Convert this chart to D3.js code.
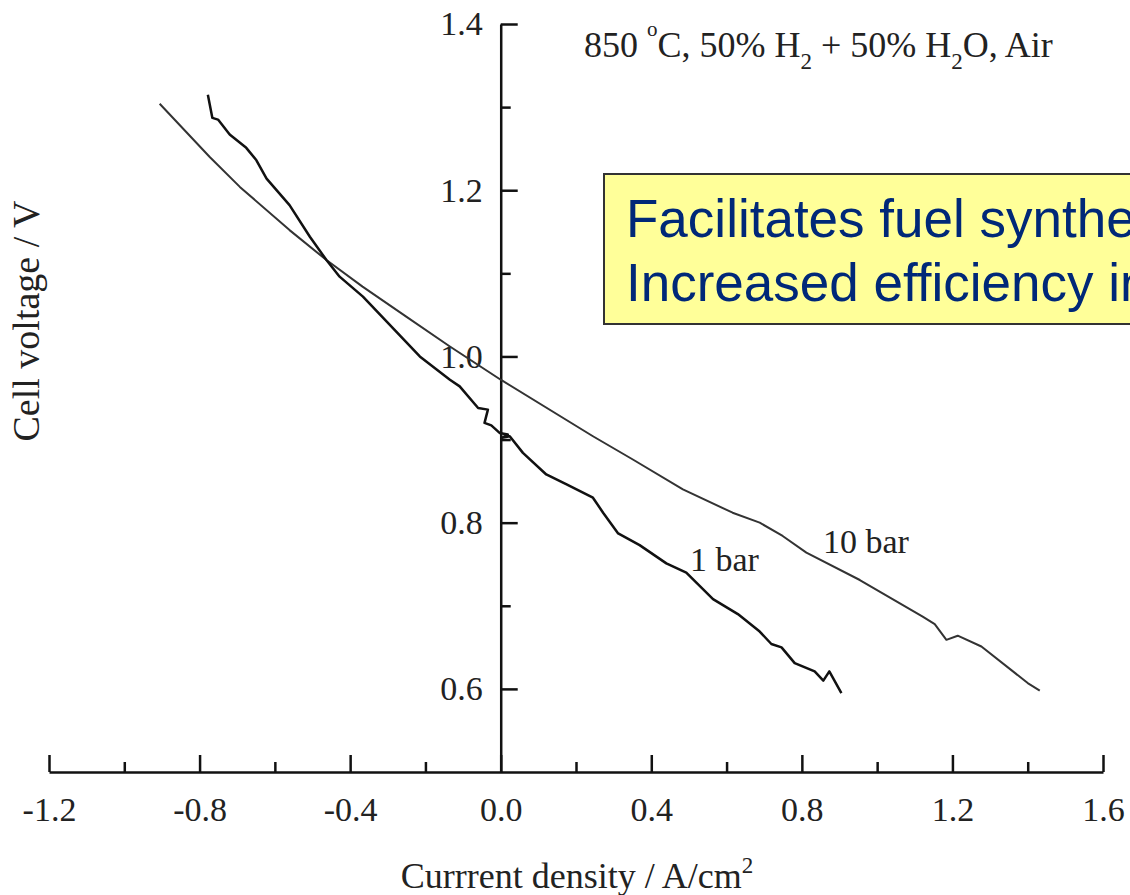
<!DOCTYPE html>
<html>
<head>
<meta charset="utf-8">
<script src="https://cdn.jsdelivr.net/npm/d3@7"></script>
<style>
  body { margin: 0; background: #fff; }
  svg { display: block; }
</style>
</head>
<body>
<svg id="chart"></svg>
<script>
// current density (A/cm2) and cell voltage (V)
const j1bar = [-0.778, -0.766, -0.751, -0.720, -0.676, -0.649, -0.622, -0.561, -0.507, -0.463,
  -0.428, -0.366, -0.215, -0.135, -0.109, -0.060, -0.034, -0.043, -0.025, -0.003,
  0.019, 0.003, 0.024, 0.059, 0.121, 0.175, 0.245, 0.272, 0.312, 0.369,
  0.440, 0.493, 0.564, 0.630, 0.688, 0.719, 0.746, 0.781, 0.834, 0.857, 0.873, 0.905];
const v1bar = [1.315, 1.287, 1.285, 1.267, 1.251, 1.236, 1.214, 1.182, 1.144, 1.116,
  1.096, 1.072, 1.000, 0.972, 0.964, 0.938, 0.936, 0.920, 0.917, 0.908,
  0.906, 0.902, 0.904, 0.884, 0.858, 0.846, 0.830, 0.812, 0.787, 0.773,
  0.751, 0.740, 0.708, 0.690, 0.669, 0.654, 0.650, 0.631, 0.621, 0.610, 0.621, 0.595];

const j10bar = [-0.906, -0.773, -0.693, -0.561, -0.463, -0.367, -0.251, -0.135, 0.000, 0.245,
  0.351, 0.484, 0.616, 0.688, 0.749, 0.812, 0.954, 1.121, 1.153, 1.184,
  1.214, 1.277, 1.400, 1.432];
const v10bar = [1.304, 1.240, 1.204, 1.152, 1.116, 1.084, 1.048, 1.012, 0.972, 0.904,
  0.876, 0.840, 0.812, 0.800, 0.784, 0.764, 0.731, 0.687, 0.678, 0.659,
  0.664, 0.651, 0.607, 0.598];

const xMajor = [-1.2, -0.8, -0.4, 0.0, 0.4, 0.8, 1.2, 1.6];
const xMinor = [-1.0, -0.6, -0.2, 0.2, 0.6, 1.0, 1.4];
const yMajor = [0.6, 0.8, 1.0, 1.2, 1.4];
const yMinor = [0.7, 0.9, 1.1, 1.3];

const width = 1130, height = 895;
const serif = "'Liberation Serif', 'Times New Roman', serif";
// plain hyphen for negatives, like the original
const fmt = d => d3.format(".1f")(d).replace("\u2212", "-");

const svg = d3.select("#chart")
  .attr("width", width)
  .attr("height", height)
  .style("background", "#fff");

const x = d3.scaleLinear().domain([-1.2, 1.6]).range([49, 1103]);
const y = d3.scaleLinear().domain([0.5, 1.4]).range([772, 24]);

// x axis: ticks point up into the plot
const xAxisMajor = d3.axisBottom(x).tickValues(xMajor)
  .tickSizeInner(-17).tickSizeOuter(0).tickPadding(25)
  .tickFormat(fmt);
const xAxisMinor = d3.axisBottom(x).tickValues(xMinor)
  .tickSizeInner(-10).tickSizeOuter(0).tickFormat("");

svg.append("g").attr("transform", `translate(0,${y(0.5)})`).call(xAxisMajor);
svg.append("g").attr("transform", `translate(0,${y(0.5)})`).call(xAxisMinor)
  .select(".domain").remove();

// y axis at zero current, ticks point right
const yAxisMajor = d3.axisLeft(y).tickValues(yMajor)
  .tickSizeInner(-17).tickSizeOuter(0).tickPadding(18)
  .tickFormat(fmt);
const yAxisMinor = d3.axisLeft(y).tickValues(yMinor)
  .tickSizeInner(-10).tickSizeOuter(0).tickFormat("");

svg.append("g").attr("transform", `translate(${x(0)},0)`).call(yAxisMajor);
svg.append("g").attr("transform", `translate(${x(0)},0)`).call(yAxisMinor)
  .select(".domain").remove();

svg.selectAll(".domain, .tick line")
  .attr("stroke", "#111")
  .attr("stroke-width", 2.5);

svg.selectAll(".tick text")
  .attr("font-family", serif)
  .attr("font-size", 34)
  .attr("fill", "#222");

// axis titles
svg.append("text")
  .attr("x", 577).attr("y", 888)
  .attr("text-anchor", "middle")
  .attr("font-family", serif).attr("font-size", 36).attr("fill", "#222")
  .call(t => {
    t.append("tspan").text("Currrent density / A/cm");
    t.append("tspan").attr("dy", -15).attr("font-size", 23).text("2");
  });

svg.append("text")
  .attr("transform", "translate(39,321) rotate(-90)")
  .attr("text-anchor", "middle")
  .attr("font-family", serif).attr("font-size", 38).attr("fill", "#222")
  .text("Cell voltage / V");

// condition label at the top
const title = svg.append("text")
  .attr("x", 584).attr("y", 57)
  .attr("font-family", serif).attr("font-size", 36).attr("fill", "#222");
const parts = [
  ["850 ", 0, 36], ["o", -21, 21], ["C, 50% H", 21, 36], ["2", 12, 23],
  [" + 50% H", -12, 36], ["2", 12, 23], ["O, Air", -12, 36]
];
parts.forEach(p => {
  title.append("tspan").attr("dy", p[1]).attr("font-size", p[2]).text(p[0]);
});

// curves
const line = d3.line().x(d => x(d[0])).y(d => y(d[1]));

svg.append("path")
  .datum(d3.zip(j10bar, v10bar))
  .attr("d", line)
  .attr("fill", "none")
  .attr("stroke", "#333")
  .attr("stroke-width", 2)
  .attr("stroke-linejoin", "round");

svg.append("path")
  .datum(d3.zip(j1bar, v1bar))
  .attr("d", line)
  .attr("fill", "none")
  .attr("stroke", "#111")
  .attr("stroke-width", 2.5)
  .attr("stroke-linejoin", "round");

svg.append("text")
  .attr("x", 690).attr("y", 571)
  .attr("font-family", serif).attr("font-size", 34).attr("fill", "#222")
  .text("1 bar");

svg.append("text")
  .attr("x", 823).attr("y", 553)
  .attr("font-family", serif).attr("font-size", 34).attr("fill", "#222")
  .text("10 bar");

// yellow call-out box, running off the right edge
svg.append("rect")
  .attr("x", 604).attr("y", 174)
  .attr("width", 600).attr("height", 150)
  .attr("fill", "#ffff99")
  .attr("stroke", "#333")
  .attr("stroke-width", 2);

const note = svg.append("text")
  .attr("font-family", "'Liberation Sans', Arial, sans-serif")
  .attr("font-size", 53)
  .attr("fill", "#002878");
note.append("tspan").attr("x", 626).attr("y", 237).text("Facilitates fuel synthesis");
note.append("tspan").attr("x", 626).attr("y", 301).text("Increased efficiency in");
</script>
</body>
</html>
